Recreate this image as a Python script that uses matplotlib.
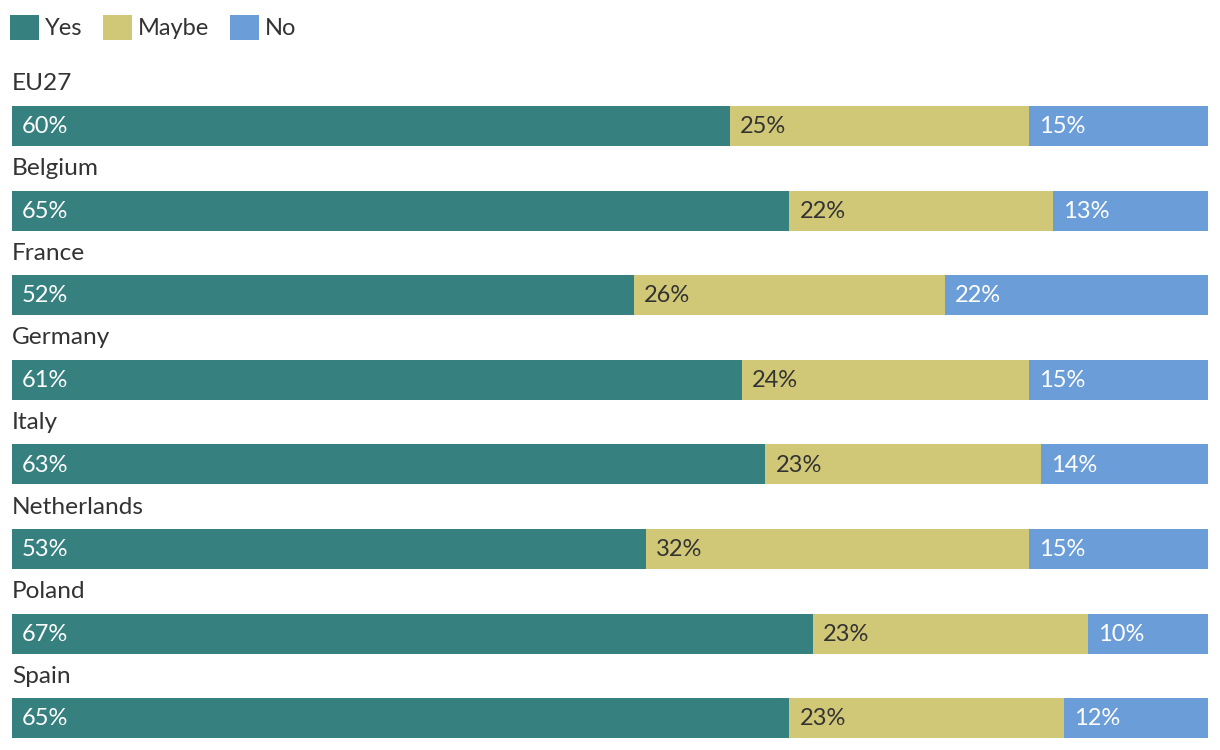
import matplotlib.pyplot as plt
from matplotlib.patches import Patch

plt.rcParams['font.family'] = ['Lato', 'DejaVu Sans']

countries = ['EU27', 'Belgium', 'France', 'Germany', 'Italy', 'Netherlands', 'Poland', 'Spain']
yes = [60, 65, 52, 61, 63, 53, 67, 65]
maybe = [25, 22, 26, 24, 23, 32, 23, 23]
no = [15, 13, 22, 15, 14, 15, 10, 12]

series = ['Yes', 'Maybe', 'No']
colors = ['#36807f', '#d1c877', '#6b9ed8']
text_colors = ['white', '#333333', 'white']

W, H = 1220, 750
fig = plt.figure(figsize=(W / 100, H / 100), dpi=100)
# axes spans the bar area horizontally, full height in pixel units vertically
ax = fig.add_axes([12 / W, 0, 1196 / W, 1])
ax.set_xlim(0, 100)
ax.set_ylim(H, 0)
ax.axis('off')

row_step = 84.6
first_bar = 126
bar_h = 40

for i, c in enumerate(countries):
    yc = first_bar + i * row_step
    ax.text(0, yc - 42, c, fontsize=17.6, color='#333333', va='center', ha='left')
    left = 0
    for vals, col, tc in zip([yes, maybe, no], colors, text_colors):
        v = vals[i]
        ax.barh(yc, v, left=left, height=bar_h, color=col, linewidth=0)
        ax.annotate(f'{v}%', (left, yc), xytext=(7.2, -0.5), textcoords='offset points',
                    fontsize=17, color=tc, va='center', ha='left')
        left += v

handles = [Patch(facecolor=c, label=s) for s, c in zip(series, colors)]
fig.legend(handles=handles, loc='upper left', bbox_to_anchor=(10 / W, 1 - 15 / H), ncol=3,
           frameon=False, fontsize=17, handlelength=1.22, handleheight=1.22,
           handletextpad=0.26, columnspacing=0.87, borderaxespad=0, borderpad=0,
           labelcolor='#333333')

fig.savefig('out.png', dpi=100)
